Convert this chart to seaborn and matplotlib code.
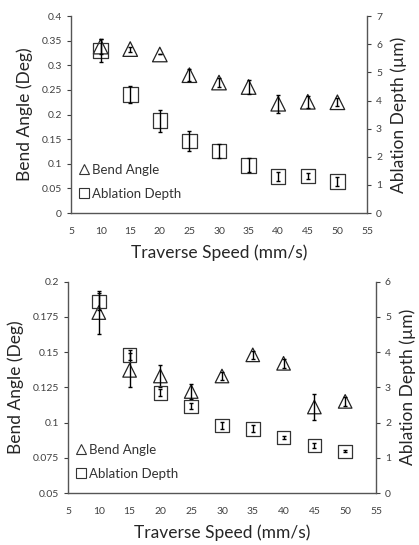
import matplotlib
matplotlib.use("Agg")
import matplotlib.pyplot as plt
import seaborn as sns
import numpy as np
import pandas as pd
from matplotlib.lines import Line2D

sns.set_style("white")
plt.rcParams['font.family'] = ['Lato', 'DejaVu Sans']

speed = [10, 15, 20, 25, 30, 35, 40, 45, 50]

# Top chart
top_bend = [0.338, 0.333, 0.322, 0.280, 0.265, 0.256, 0.222, 0.226, 0.225]
top_bend_err = [0.015, 0.005, 0.0, 0.012, 0.01, 0.015, 0.018, 0.012, 0.008]
top_depth = [5.78, 4.22, 3.28, 2.56, 2.2, 1.7, 1.3, 1.32, 1.12]
top_depth_err = [0.4, 0.3, 0.4, 0.35, 0.25, 0.25, 0.15, 0.1, 0.15]

# Bottom chart
bot_bend = [0.178, 0.137, 0.133, 0.122, 0.133, 0.148, 0.142, 0.111, 0.115]
bot_bend_err = [0.015, 0.012, 0.008, 0.005, 0.003, 0.003, 0.003, 0.009, 0.003]
bot_depth = [5.43, 3.92, 2.84, 2.46, 1.92, 1.82, 1.58, 1.35, 1.18]
bot_depth_err = [0.25, 0.15, 0.1, 0.08, 0.1, 0.1, 0.04, 0.06, 0.03]

fig = plt.figure(figsize=(4.19, 5.45), dpi=100)
ax1 = fig.add_axes([0.1695, 0.609, 0.7064, 0.3615])
ax2 = fig.add_axes([0.1623, 0.0954, 0.735, 0.388])

tick_color = '#404040'
label_color = '#262626'


def panel(ax, bend, bend_err, depth, depth_err, ylim_l, yticks_l, yticklabels_l, ylim_r, yticks_r, msize):
    df_b = pd.DataFrame({'speed': speed, 'val': bend})
    df_d = pd.DataFrame({'speed': speed, 'val': depth})
    sns.scatterplot(data=df_b, x='speed', y='val', ax=ax, marker='^', s=msize,
                    facecolor='none', edgecolor='#222222', linewidth=0.9, zorder=3)
    ax.errorbar(speed, bend, yerr=bend_err, fmt='none', ecolor='black', elinewidth=1.0, capsize=1.5, capthick=1.0, zorder=5)
    axr = ax.twinx()
    sns.scatterplot(data=df_d, x='speed', y='val', ax=axr, marker='s', s=msize,
                    facecolor='none', edgecolor='#333333', linewidth=0.9, zorder=3)
    axr.errorbar(speed, depth, yerr=depth_err, fmt='none', ecolor='black', elinewidth=1.0, capsize=1.5, capthick=1.0, zorder=5)
    ax.set_xlim(5, 55)
    ax.set_ylim(*ylim_l)
    ax.set_yticks(yticks_l)
    ax.set_yticklabels(yticklabels_l)
    ax.set_xticks(range(5, 60, 5))
    axr.set_ylim(*ylim_r)
    axr.set_yticks(yticks_r)
    for a in (ax, axr):
        a.spines['top'].set_visible(False)
        for s in ('left', 'bottom', 'right'):
            a.spines[s].set_color('#555555')
            a.spines[s].set_linewidth(1.0)
        a.tick_params(labelsize=7.5, colors=tick_color, length=3, width=0.8, direction='out')
    ax.spines['right'].set_visible(False)
    axr.spines['left'].set_visible(False)
    axr.spines['bottom'].set_visible(False)
    ax.tick_params(axis='x', direction='inout', length=4, pad=8)
    ax.set_xlabel('Traverse Speed (mm/s)', fontsize=12.5, color=label_color, labelpad=6)
    ax.set_ylabel('Bend Angle (Deg)', fontsize=12.5, color=label_color, labelpad=6)
    axr.set_ylabel('Ablation Depth (µm)', fontsize=12.5, color=label_color, labelpad=6)
    handles = [Line2D([], [], marker='^', linestyle='none', markerfacecolor='none', markeredgecolor='#333333', markersize=7, markeredgewidth=0.8),
               Line2D([], [], marker='s', linestyle='none', markerfacecolor='none', markeredgecolor='#333333', markersize=7, markeredgewidth=0.8)]
    ax.legend(handles, ['Bend Angle', 'Ablation Depth'], loc='lower left', bbox_to_anchor=(0.0, 0.02),
              frameon=False, handlelength=0.6, handletextpad=0.3, labelspacing=0.9, fontsize=9.5,
              labelcolor='#333333', borderaxespad=0.3)
    return axr


panel(ax1, top_bend, top_bend_err, top_depth, top_depth_err,
      (0, 0.4), [0, 0.05, 0.1, 0.15, 0.2, 0.25, 0.3, 0.35, 0.4],
      ['0', '0.05', '0.1', '0.15', '0.2', '0.25', '0.3', '0.35', '0.4'],
      (0, 7), range(0, 8), 110)
panel(ax2, bot_bend, bot_bend_err, bot_depth, bot_depth_err,
      (0.05, 0.2), [0.05, 0.075, 0.1, 0.125, 0.15, 0.175, 0.2],
      ['0.05', '0.075', '0.1', '0.125', '0.15', '0.175', '0.2'],
      (0, 6), range(0, 7), 95)

fig.savefig('out.png', dpi=100)
